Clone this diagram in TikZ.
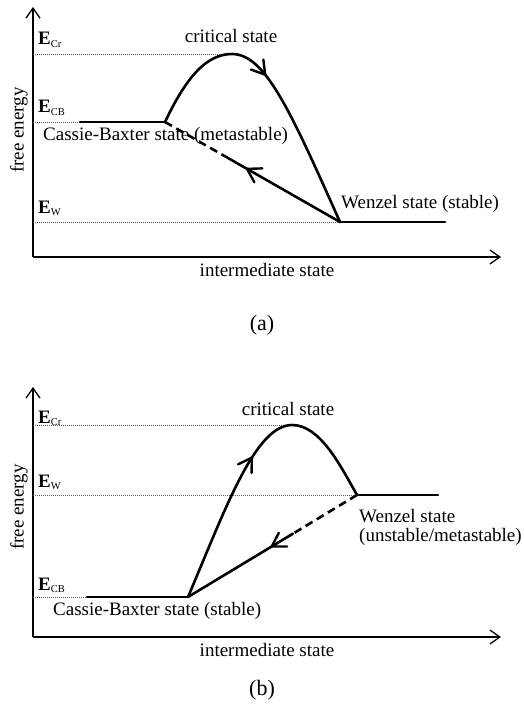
\documentclass[tikz,border=0pt]{standalone}
\usepackage{fontspec}
\setmainfont{Liberation Serif}
\usetikzlibrary{arrows.meta,decorations.markings,calc}
\tikzset{
  axisln/.style={line width=1.5pt,-{Straight Barb[length=10pt,width=14pt,line width=1.3pt]}},
  levelln/.style={line width=0.7pt,gray!70!black,dash pattern=on 1pt off 1pt},
  solidln/.style={line width=2.6pt,line cap=round,line join=round},
  dashln/.style={line width=2.6pt,dash pattern=on 8pt off 5pt},
  lbl/.style={font=\fontsize{19}{21}\selectfont,inner sep=0pt,anchor=base west},
  elbl/.style={font=\fontsize{19}{21}\selectfont,inner sep=0pt,anchor=base west},
  captxt/.style={font=\fontsize{22}{24}\selectfont,inner sep=0pt},
  midarrow/.style={postaction={decorate,decoration={markings,mark=at position #1 with {\draw[line width=2.4pt,line cap=round,line join=miter,solid] (-13pt,-8pt) -- (0pt,0pt) -- (-13pt,8pt);}}}},
}
\newcommand{\En}[1]{\textbf{E}\textsubscript{\fontsize{10.5}{10}\selectfont #1}}
\begin{document}
\begin{tikzpicture}[x=1pt,y=-1pt]
\useasboundingbox (0,0) rectangle (523,722);
\fill[white] (0,0) rectangle (523,722);
% ---------------- panel (a)
\coordinate (aO) at (33,257);
\coordinate (aY) at (33,7);
\coordinate (aX) at (501,257);
\draw[axisln] (aO) -- (aY);
\draw[axisln] (aO) -- (aX);
\coordinate (aCrL) at (33,54);
\coordinate (aPk) at (232,54);
\coordinate (aCBL) at (33,122);
\coordinate (aCB0) at (80,122);
\coordinate (aCB) at (165,122);
\coordinate (aWL) at (33,222);
\coordinate (aW) at (340,222);
\coordinate (aW1) at (445,222);
\draw[levelln] (aCrL) -- (aPk);
\draw[levelln] (aCBL) -- (aCB0);
\draw[levelln] (aWL) -- (aW);
\draw[solidln] (aCB0) -- (aCB);
\draw[solidln] (aW) -- (aW1);
\draw[solidln,midarrow=0.46] (aCB) .. controls (185,80) and (205,54) .. (aPk)
   .. controls (265,54) and (290,110) .. (aW);
\coordinate (aS) at ($(aCB)!0.36!(aW)$);
\draw[dashln] (aCB) -- (aS);
\draw[solidln,midarrow=0.83] (aW) -- (aS);
\node[elbl] (aECr) at (38,45) {\En{Cr}};
\node[elbl] (aECB) at (38,113) {\En{CB}};
\node[elbl] (aEW) at (38,213) {\En{W}};
\node[lbl,anchor=base] (acrit) at (231,43) {critical state};
\node[lbl] (acas) at (43,141) {Cassie-Baxter state (metastable)};
\node[lbl] (awen) at (341,208) {Wenzel state (stable)};
\node[lbl,anchor=base] (aint) at (267,276) {intermediate state};
\node[lbl,rotate=90,anchor=center] (afree) at (19,130) {free energy};
\node[captxt] (acap) at (262,325) {(a)};
% ---------------- panel (b)
\coordinate (bO) at (33,637);
\coordinate (bY) at (33,387);
\coordinate (bX) at (501,637);
\draw[axisln] (bO) -- (bY);
\draw[axisln] (bO) -- (bX);
\coordinate (bCrL) at (33,425);
\coordinate (bPk) at (292,425);
\coordinate (bWL) at (33,495);
\coordinate (bW) at (357,495);
\coordinate (bW1) at (438,495);
\coordinate (bCBL) at (33,597);
\coordinate (bCB0) at (87,597);
\coordinate (bCB) at (188,597);
\draw[levelln] (bCrL) -- (bPk);
\draw[levelln] (bWL) -- (bW);
\draw[levelln] (bCBL) -- (bCB0);
\draw[solidln] (bCB0) -- (bCB);
\draw[solidln] (bW) -- (bW1);
\draw[solidln,midarrow=0.5] (bCB) .. controls (225,510) and (255,425) .. (bPk)
   .. controls (320,425) and (340,465) .. (bW);
\coordinate (bS) at ($(bW)!0.38!(bCB)$);
\draw[dashln] (bW) -- (bS);
\draw[solidln,midarrow=0.2] (bS) -- (bCB);
\node[elbl] (bECr) at (38,423) {\En{Cr}};
\node[elbl] (bEW) at (38,487) {\En{W}};
\node[elbl] (bECB) at (38,590) {\En{CB}};
\node[lbl,anchor=base] (bcrit) at (288,415) {critical state};
\node[lbl] (bwen) at (359,522) {Wenzel state};
\node[lbl] (bwen2) at (359,541) {(unstable/metastable)};
\node[lbl] (bcas) at (53,615) {Cassie-Baxter state (stable)};
\node[lbl,anchor=base] (bint) at (267,656) {intermediate state};
\node[lbl,rotate=90,anchor=center] (bfree) at (19,507) {free energy};
\node[captxt] (bcap) at (262,690) {(b)};
\end{tikzpicture}
\end{document}
